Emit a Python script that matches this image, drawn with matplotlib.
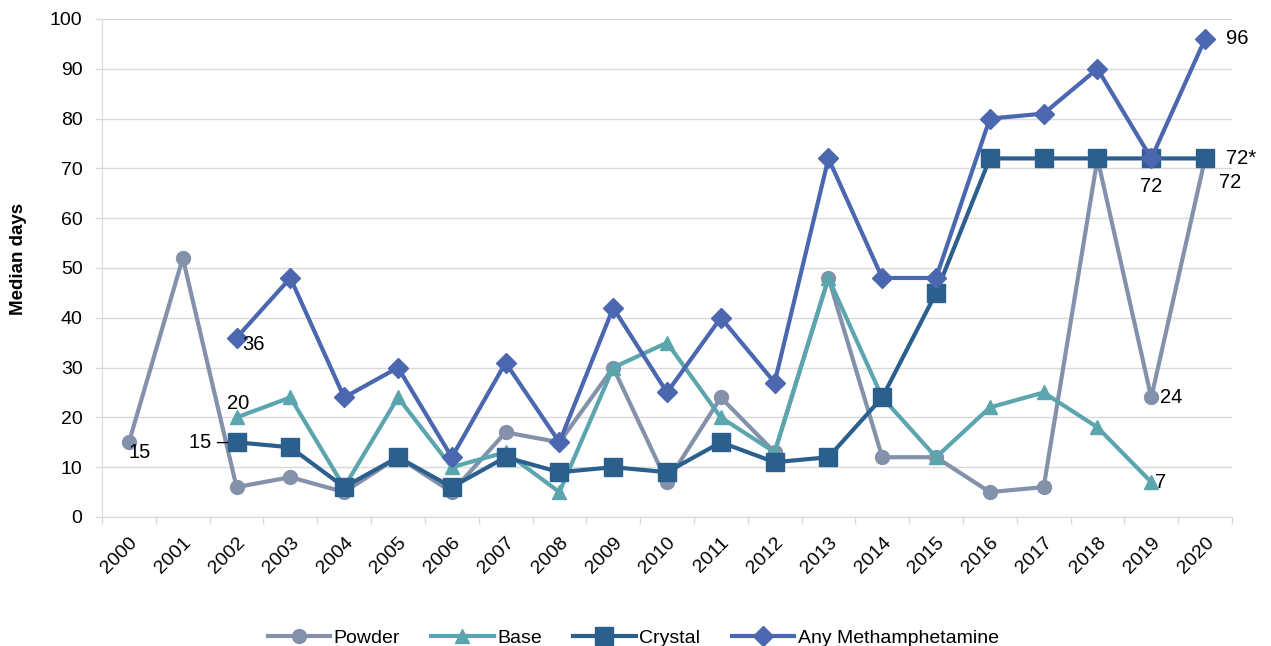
import numpy as np
import matplotlib
matplotlib.use("Agg")
import matplotlib.pyplot as plt

plt.rcParams['font.family'] = ['Liberation Sans', 'DejaVu Sans']

years = [str(y) for y in range(2000, 2021)]
nan = np.nan
powder = [15, 52, 6, 8, 5, 12, 5, 17, 15, 30, 7, 24, 13, 48, 12, 12, 5, 6, 72, 24, 72]
base = [nan, nan, 20, 24, 6, 24, 10, 13, 5, 30, 35, 20, 13, 48, 24, 12, 22, 25, 18, 7, nan]
crystal = [nan, nan, 15, 14, 6, 12, 6, 12, 9, 10, 9, 15, 11, 12, 24, 45, 72, 72, 72, 72, 72]
any_meth = [nan, nan, 36, 48, 24, 30, 12, 31, 15, 42, 25, 40, 27, 72, 48, 48, 80, 81, 90, 72, 96]

fig = plt.figure(figsize=(12.71, 6.46), dpi=100)
ax = fig.add_axes([0.0803, 0.1997, 0.889, 0.7709])

x = np.arange(len(years))
series = [
    ("Powder", powder, "#8391AB", "o", 10),
    ("Base", base, "#5BA5AE", "^", 10),
    ("Crystal", crystal, "#2B5F8E", "s", 13),
    ("Any Methamphetamine", any_meth, "#4A67AF", "D", 10),
]
for name, vals, col, mk, ms in series:
    ax.plot(x, np.array(vals, dtype=float), color=col, lw=3, marker=mk,
            markersize=ms, markerfacecolor=col, markeredgecolor=col,
            label=name, solid_joinstyle='round', zorder=3)

ax.set_xlim(-0.5, len(years) - 0.5)
ax.set_ylim(0, 100)
ax.set_yticks(range(0, 101, 10))
ax.set_xticks(x)
ax.set_xticklabels(years, rotation=45, ha='right', rotation_mode='anchor', fontsize=14)
ax.set_xticks(np.arange(-0.5, len(years), 1), minor=True)
ax.tick_params(axis='x', which='major', length=0, pad=12)
ax.tick_params(axis='x', which='minor', length=5, color='#D9D9D9', width=1)
ax.tick_params(axis='y', length=5, color='#D9D9D9', width=1, labelsize=14, pad=9)
ax.grid(axis='y', color='#D9D9D9', lw=1)
ax.set_axisbelow(True)
for s in ['top', 'right']:
    ax.spines[s].set_visible(False)
for s in ['left', 'bottom']:
    ax.spines[s].set_color('#D9D9D9')
ax.set_ylabel("Median days", fontsize=13.5, fontweight='bold')
ax.yaxis.set_label_coords(-0.066, 0.518)

def lab(i, vals, text, dx, dy, ha='left', va='center'):
    ax.annotate(text, (x[i], vals[i]), xytext=(dx, dy), textcoords='offset points',
                ha=ha, va=va, fontsize=14.5)

lab(0, powder, "15", 0, -7)
lab(2, any_meth, "36", 4, -5)
lab(2, base, "20", -7, 10)
lab(2, crystal, "15 \u2013", -6, 0, ha='right')
lab(19, any_meth, "72", 0, -20, ha='center')
lab(19, powder, "24", 6, 0)
lab(19, base, "7", 3, 0)
lab(20, any_meth, "96", 15, 0)
lab(20, crystal, "72*", 15, 0)
lab(20, powder, "72", 10, -17)

ax.legend(loc='upper center', bbox_to_anchor=(0.47, -0.19), ncol=4, frameon=False,
          fontsize=14, handlelength=3.2, columnspacing=1.6, handletextpad=0.2)

fig.savefig("out.png", dpi=100)
